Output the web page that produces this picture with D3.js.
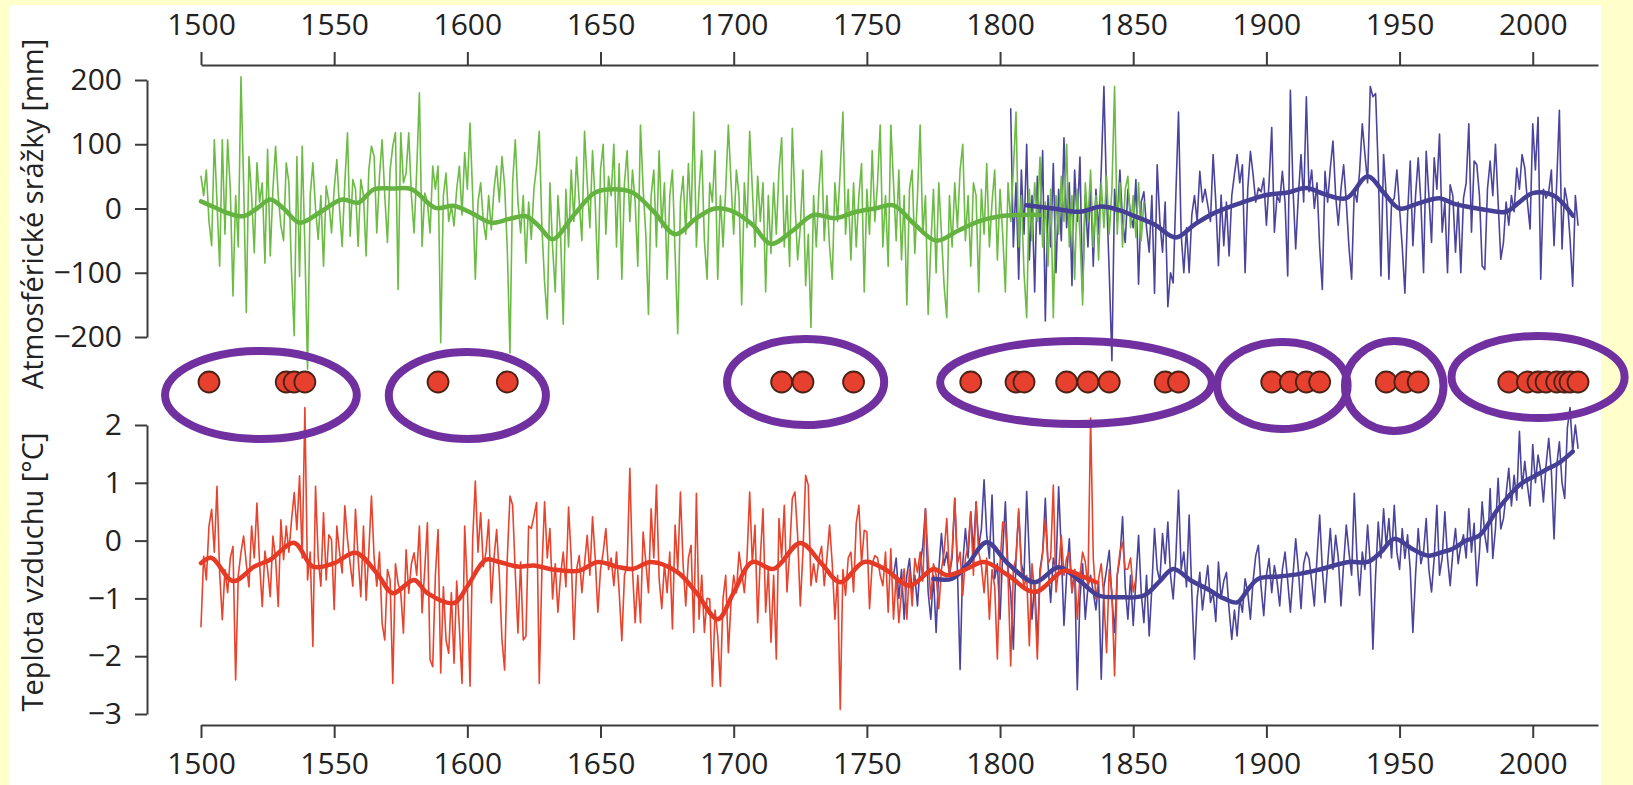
<!DOCTYPE html>
<html>
<head>
<meta charset="utf-8">
<script src="https://cdn.jsdelivr.net/npm/d3@7"></script>
<style>
  html, body { margin: 0; padding: 0; background: #FFFFCC; }
  svg { display: block; }
</style>
</head>
<body>
<svg id="chart" width="1633" height="785"></svg>
<script>
// ---- data ----
const yearTicks = [1500, 1550, 1600, 1650, 1700, 1750, 1800, 1850, 1900, 1950, 2000];
const precipTicks = [-200, -100, 0, 100, 200];
const tempTicks = [-3, -2, -1, 0, 1, 2];

// annual precipitation anomaly [mm], reconstruction (green) from 1500
const greenStart = 1500;
const greenPrecip = [
  50,20,60,-20,-58,107,10,-90,107,-40,
  107,30,-136,20,-60,205,40,-162,81,20,
  -69,71,10,40,-85,92,-74,30,97,20,
  -27,-50,71,40,-100,-198,81,-106,97,-60,
  -250,20,71,0,-48,20,-90,35,10,-38,
  30,76,0,-59,40,118,-43,45,30,-59,
  45,20,-74,60,97,81,-38,50,107,20,
  -53,60,97,118,-126,118,40,55,118,20,
  -38,60,180,-59,24,10,-38,66,30,66,
  -209,20,55,-20,4,-27,30,66,-10,87,
  30,133,20,-110,10,40,-20,-48,20,-33,
  30,66,10,81,35,-64,-225,40,107,10,
  -38,20,-85,10,-48,30,66,120,-30,-115,
  -172,40,-60,-130,20,-40,-180,30,-60,60,
  -20,80,10,-50,120,40,-30,90,10,-110,
  60,100,-40,50,20,100,-60,70,-110,40,
  90,-20,60,10,-90,130,30,-40,-165,20,
  60,-60,90,-30,40,-110,20,60,-70,-195,
  10,50,-40,70,-20,150,-60,30,90,-50,
  -110,40,10,90,-110,20,-60,30,130,40,
  -40,60,20,-150,40,-30,120,30,-60,50,
  -20,40,-130,20,-70,40,-40,60,110,-60,
  20,-90,125,10,-80,-30,60,-120,-40,-185,
  20,-60,30,90,-50,20,-60,-110,40,-20,
  60,150,-40,30,-80,40,-60,20,70,-130,
  30,-40,90,-20,40,130,-60,20,-90,130,
  40,-50,60,-80,20,-150,30,60,-70,20,
  130,-40,20,-165,-60,30,-100,40,-40,-120,
  -170,20,-60,40,-30,60,100,-50,20,-90,
  40,20,-130,30,-40,70,-60,10,60,-80,
  30,-40,-130,40,-20,60,150,-60,20,-100,
  -170,30,-50,40,-20,80,-60,10,-90,30,
  -170,20,-40,50,-20,100,-60,20,-110,30,
  -40,-150,40,-20,60,-60,20,-80,40,-30,
  50,-40,30,190,-40,40,-60,30,50,-30,
  20,-45,40,-50,10
];

// annual precipitation anomaly [mm], measurements (blue) from 1804
const bluePrecipStart = 1804;
const bluePrecip = [
  155,-60,40,-110,60,-40,
  100,-80,20,-130,50,-40,90,-175,20,-60,
  70,-100,30,-50,110,-30,40,-120,60,-20,
  80,-130,20,-60,40,-90,30,-40,60,190,
  20,-100,-237,30,-20,60,-20,-53,30,-10,
  -30,45,-118,10,26,-30,-68,20,-132,68,
  -20,-68,10,-153,-100,-116,20,150,-40,-100,
  -30,-100,-10,20,-20,58,10,30,5,-20,
  84,10,-89,21,-58,10,-74,20,53,84,
  40,68,-100,30,89,53,10,32,26,47,
  -26,40,126,-37,20,10,58,10,-105,184,
  30,-63,20,84,10,174,26,60,0,40,
  -60,-126,58,10,63,105,20,-26,30,68,
  10,-60,-110,30,10,58,132,84,40,190,
  174,179,60,-105,84,20,-110,10,16,60,
  0,-60,-132,-10,74,-58,20,79,10,-100,
  89,20,-53,79,30,116,-37,10,-100,37,
  20,-68,10,-100,16,40,132,-37,74,68,
  20,-89,-95,30,74,20,100,10,-79,-53,
  10,-26,20,-5,63,30,84,63,10,-32,
  132,60,142,-110,30,16,26,60,-58,40,
  153,-63,32,10,-47,-121,20,-26
];

// annual temperature anomaly [°C], reconstruction (red) from 1500
const redStart = 1500;
const redTemp = [
  -1.49,-0.27,-0.68,0.25,0.54,-0.2,0.94,-0.56,-1.37,-0.5,
  -0.9,-0.3,-0.1,-2.41,-0.6,-0.21,0.08,-0.4,-0.8,0.25,
  -0.3,0.65,-0.4,-1.14,-0.18,-0.5,-0.97,0.08,-0.3,-1.14,
  0.36,-0.33,0.25,-0.2,0.36,0.83,0.19,1.12,-0.3,2.3,
  -0.68,-0.2,-1.83,0.94,-0.3,-0.79,0.48,-0.68,0.1,0.02,
  -1.19,0.25,-0.2,-0.56,0.6,0.02,-0.4,-0.79,0.54,-0.3,
  -0.97,0.25,-1.03,-0.2,0.77,-0.3,-0.79,-0.2,-1.43,-1.72,
  -0.5,-0.68,-2.47,-0.4,-0.74,-0.9,-1.6,-0.16,-0.91,-0.4,
  -0.21,-0.6,0.25,-1.25,-0.5,0.31,-2.06,-2.18,-0.6,0.19,
  -2.29,-0.8,-1.72,-1.95,-0.9,-2.12,-0.7,-1.49,-2.47,0.25,
  -0.8,-2.52,0.02,1.03,-0.2,0.48,-0.45,-0.2,0.36,-1.08,
  -0.3,0.19,-0.6,-1.72,-2.24,-0.3,0.77,0.61,-0.56,-1.6,
  -0.37,-1.72,-1.65,0.25,0.21,0.42,0.66,-2.47,-0.5,0.67,
  -0.3,0.21,-1.01,-0.4,-1.24,-0.6,-0.2,-0.8,0.58,-0.3,
  -1.71,-0.5,-0.26,-0.9,-0.4,0.09,-0.6,0.41,-0.3,-1.24,
  -0.5,-0.2,0.21,-0.5,-0.3,-0.78,-0.2,-0.89,-1.73,-0.6,
  -0.43,1.25,-0.5,-1.42,-0.6,-1.42,0.15,-0.37,-0.9,0.55,
  -0.3,0.96,-0.66,-1.18,-0.4,-0.9,-0.2,-1.53,0.27,-0.5,
  0.84,-0.4,-1.13,-0.3,-0.08,-1.59,0.82,-1.36,-0.6,-1.59,
  -1.0,-1.01,-2.52,-1.2,-1.65,-2.52,-1.0,-0.6,-1.94,-1.07,
  -0.6,-0.9,-0.2,-0.55,-0.9,-0.3,0.84,-0.4,0.27,-1.42,
  -0.3,0.55,-1.24,-0.5,-1.76,-0.6,-2.05,0.38,-0.3,0.61,
  -0.89,-0.2,0.73,0.84,0.09,-1.13,-0.2,1.13,0.96,-0.78,
  -0.4,-0.72,-0.31,-0.1,-0.78,-0.3,0.27,-0.4,-1.36,-0.6,
  -2.92,-0.5,-0.95,-0.3,-0.2,-0.89,0.3,0.61,-0.4,0.18,
  0.15,-1.18,-0.4,-0.26,-0.3,-0.6,-0.78,-0.2,-1.24,-0.14,
  -1.36,-0.6,-1.42,-0.89,-0.49,-1.36,-0.5,-1.13,-0.31,-0.55,
  -0.2,-0.7,0.55,-0.3,-1.01,-0.4,-0.6,-1.18,-0.5,-0.2,
  0.38,-0.6,-0.2,0.73,-0.4,-0.2,-0.95,-0.3,-0.1,0.5,
  -0.6,0.67,-0.2,-0.43,-0.9,-0.3,-1.36,-0.5,-0.8,-2.05,
  -0.4,0.32,0.27,-0.6,-2.17,-0.5,-0.3,0.55,-0.5,-0.8,
  -0.6,-1.82,-0.4,-0.9,-2.05,-0.6,-0.2,0.38,-0.4,-0.3,
  0.96,-0.89,-0.5,0.09,-0.6,-0.3,-0.2,-0.9,-0.5,-1.36,
  -0.6,-0.2,-0.37,-0.8,2.12,-0.3,-1.01,-0.66,-0.4,-1.0,
  -1.94,-0.5,-0.9,-2.34,-0.6,-0.2,-0.03,-0.5,-0.49,-0.3,
  -0.89,-0.66
];

// annual temperature anomaly [°C], measurements (blue) from 1760
const blueTempStart = 1760;
const blueTemp = [
  -0.6,-0.3,-1.0,-0.5,-1.36,-0.6,-0.31,-0.9,-0.6,-1.13,
  -0.4,-0.1,0.55,-0.89,-1.36,-0.6,-1.59,-0.5,0.12,-0.43,
  -0.2,-0.6,-0.3,0.73,-0.5,-2.23,-0.4,0.21,-0.3,0.5,
  -0.2,0.67,-0.1,0.2,1.05,0.1,-0.31,0.79,-0.66,-0.4,
  -1.36,-0.2,0.67,-0.5,-0.9,-1.88,-0.3,0.5,-0.4,-0.6,
  0.85,-0.3,-1.36,-0.7,-1.82,-0.5,-0.2,0.73,-0.4,-1.07,
  -0.3,-0.5,0.93,-0.2,-1.47,-0.6,0.03,-0.9,-0.5,-2.58,
  -1.0,-0.4,-1.36,-0.8,-0.6,-0.89,-1.2,-0.7,-2.4,-0.8,
  -0.5,-0.17,-1.0,-1.59,-0.6,-0.3,0.41,-0.8,-1.36,-0.6,
  -1.47,-0.7,0.09,-0.9,-1.42,-0.6,-1.65,-0.8,0.21,-0.5,
  -0.7,0.12,-0.4,0.32,-0.6,-1.01,-0.3,0.87,-0.5,-0.2,
  -0.8,0.44,-0.9,-2.05,-1.0,-0.55,-1.2,-0.8,-0.43,-1.07,
  -0.9,-1.4,-0.37,-1.0,-0.7,-0.55,-1.2,-1.71,-1.2,-1.65,
  -1.0,-1.24,-0.66,-0.9,-1.36,-0.7,-0.26,-0.08,-0.8,-1.3,
  -0.6,-0.31,-0.9,-0.43,-0.7,-1.13,-0.5,-0.2,-0.7,-1.24,
  -0.6,0.03,-0.5,-1.18,-0.4,-0.2,-0.31,-0.7,-1.13,-0.3,
  0.44,-0.5,-1.07,-0.4,0.21,-0.5,0.09,-0.3,-1.13,-0.4,
  0.27,-0.2,-0.6,0.82,-0.3,-0.95,-0.2,-0.5,0.27,-0.4,
  -1.88,-0.6,0.32,-0.3,0.55,-0.1,0.38,-0.3,0.61,-0.2,
  -0.5,0.21,-0.31,0.1,-0.5,-1.59,-0.6,0.21,-0.4,-0.2,
  0.38,-0.5,-0.89,-0.3,0.61,-0.6,-0.3,0.5,-0.3,-0.78,
  -0.2,0.21,-0.4,-0.08,0.1,-0.3,0.55,-0.2,0.3,-0.78,
  -0.2,0.67,0.1,-0.2,0.9,-0.31,0.2,1.08,0.2,0.38,
  0.8,1.25,0.6,1.13,0.7,1.89,0.9,1.37,0.96,0.6,
  1.66,1.0,1.48,1.2,0.67,1.3,1.77,1.2,0.03,1.3,
  1.71,1.0,0.73,1.95,2.3,1.54,2.0,1.6
];

// smoothed curves [year, value]
const greenSmooth = [
  [1500,11],[1505,2],[1510,-7],[1516,-12],[1521,0],[1526,14],[1531,0],[1537,-22],
  [1545,-5],[1553,14],[1559,9],[1565,30],[1572,31],[1579,30],[1588,1],[1595,4],
  [1602,-8],[1609,-22],[1616,-16],[1622,-12],[1627,-28],[1632,-48],[1640,-10],
  [1648,25],[1655,30],[1662,25],[1670,-5],[1678,-40],[1686,-15],[1693,0],[1700,-5],
  [1707,-25],[1714,-55],[1722,-35],[1730,-10],[1738,-15],[1746,-5],[1753,0],
  [1760,5],[1768,-25],[1776,-50],[1784,-35],[1792,-20],[1800,-12],[1808,-10],[1815,-10]
];
const bluePrecipSmooth = [
  [1810,5],[1820,0],[1830,-5],[1838,3],[1845,-3],[1850,-11],[1858,-25],[1866,-45],
  [1873,-25],[1880,-8],[1890,8],[1900,21],[1908,25],[1915,32],[1922,22],[1930,16],
  [1938,50],[1944,25],[1950,0],[1957,8],[1965,16],[1970,8],[1975,3],[1982,-2],
  [1990,-5],[1995,10],[2000,24],[2008,20],[2015,-11]
];
const redSmooth = [
  [1500,-0.39],[1504,-0.3],[1512,-0.7],[1520,-0.45],[1526,-0.33],[1535,-0.04],
  [1542,-0.45],[1550,-0.39],[1558,-0.21],[1566,-0.56],[1572,-0.91],[1580,-0.68],
  [1585,-0.91],[1595,-1.08],[1600,-0.79],[1607,-0.33],[1612,-0.37],[1619,-0.45],
  [1625,-0.43],[1632,-0.5],[1642,-0.52],[1649,-0.37],[1656,-0.45],[1662,-0.49],
  [1669,-0.37],[1679,-0.55],[1686,-0.9],[1694,-1.36],[1700,-0.9],[1707,-0.37],
  [1715,-0.49],[1725,-0.04],[1733,-0.4],[1740,-0.72],[1749,-0.37],[1757,-0.5],
  [1766,-0.78],[1775,-0.49],[1780,-0.6],[1787,-0.5],[1794,-0.37],[1803,-0.6],
  [1813,-0.89],[1824,-0.52],[1830,-0.6],[1836,-0.72]
];
const blueTempSmooth = [
  [1775,-0.66],[1782,-0.66],[1788,-0.4],[1795,-0.03],[1803,-0.4],[1813,-0.72],
  [1822,-0.46],[1830,-0.7],[1837,-0.95],[1845,-0.98],[1854,-0.95],[1860,-0.7],
  [1865,-0.49],[1872,-0.7],[1878,-0.84],[1884,-1.0],[1889,-1.07],[1893,-0.85],
  [1897,-0.66],[1905,-0.62],[1912,-0.58],[1920,-0.5],[1931,-0.37],[1938,-0.37],
  [1943,-0.2],[1948,0.03],[1955,-0.15],[1961,-0.26],[1966,-0.2],[1970,-0.14],
  [1975,0.0],[1980,0.09],[1987,0.55],[1995,0.96],[2000,1.1],[2006,1.25],
  [2010,1.35],[2015,1.54]
];

// marked years (red dots) and the groups circled around them
const dotYears = [
  1503, 1532, 1535, 1539, 1589, 1615, 1718, 1726, 1745,
  1789, 1806, 1809, 1825, 1833, 1841, 1862, 1867,
  1902, 1909, 1915, 1920, 1945, 1952, 1957,
  1991, 1998, 2002, 2005, 2009, 2012, 2014, 2017
];
const groupSpans = [
  [1485, 1560], [1569, 1631], [1696, 1758], [1776, 1881],
  [1880, 1932], [1928, 1968], [1968, 2036]
];

// ---- layout ----
const font = '"Open Sans", "DejaVu Sans", sans-serif';
const axisColor = '#3c3c3c';
const green = '#6cbb45', blue = '#4b449c', red = '#e8432d';
const dotRow = 382;
const groupRows = [[347, 443], [348, 443], [335, 429], [337, 428], [338, 433], [337, 435], [332, 422]];

const svg = d3.select('#chart');
svg.append('rect').attr('x', 10).attr('y', 5).attr('width', 1591).attr('height', 780).attr('fill', '#ffffff');

const x = d3.scaleLinear().domain([1500, 2024.5]).range([201, 1598]);
const yP = d3.scaleLinear().domain([-200, 200]).range([337, 80]);
const yT = d3.scaleLinear().domain([-3, 2]).range([714, 425]);

function styleAxis(g) {
  g.attr('font-family', font).attr('font-size', 30);
  g.selectAll('path, line').attr('stroke', axisColor).attr('stroke-width', 2);
  g.selectAll('text').attr('fill', '#222');
}

svg.append('g')
  .attr('transform', 'translate(0,65)')
  .call(d3.axisTop(x).tickValues(yearTicks).tickFormat(d3.format('d'))
    .tickSize(13).tickSizeOuter(0).tickPadding(17))
  .call(styleAxis);

svg.append('g')
  .attr('transform', 'translate(0,725)')
  .call(d3.axisBottom(x).tickValues(yearTicks).tickFormat(d3.format('d'))
    .tickSize(13).tickSizeOuter(0).tickPadding(15))
  .call(styleAxis);

svg.append('g')
  .attr('transform', 'translate(147,0)')
  .call(d3.axisLeft(yP).tickValues(precipTicks).tickFormat(d3.format('d'))
    .tickSize(12).tickSizeOuter(0).tickPadding(13))
  .call(styleAxis);

svg.append('g')
  .attr('transform', 'translate(147,0)')
  .call(d3.axisLeft(yT).tickValues(tempTicks).tickFormat(d3.format('d'))
    .tickSize(12).tickSizeOuter(0).tickPadding(13))
  .call(styleAxis);

svg.append('text')
  .attr('transform', 'translate(31,214) rotate(-90)')
  .attr('text-anchor', 'middle').attr('dominant-baseline', 'central')
  .attr('font-family', font).attr('font-size', 29).attr('fill', '#222')
  .text('Atmosférické srážky [mm]');

svg.append('text')
  .attr('transform', 'translate(31,572) rotate(-90)')
  .attr('text-anchor', 'middle').attr('dominant-baseline', 'central')
  .attr('font-family', font).attr('font-size', 29).attr('fill', '#222')
  .text('Teplota vzduchu [°C]');

// ---- lines ----
const annual = (start, y) => d3.line().x((d, i) => x(start + i)).y(d => y(d));
const smooth = (y) => d3.line().x(d => x(d[0])).y(d => y(d[1])).curve(d3.curveCatmullRom.alpha(0.5));

function drawLine(data, gen, color, width) {
  svg.append('path').datum(data)
    .attr('d', gen)
    .attr('fill', 'none')
    .attr('stroke', color)
    .attr('stroke-width', width)
    .attr('stroke-linejoin', 'round')
    .attr('stroke-linecap', 'round');
}

drawLine(bluePrecip, annual(bluePrecipStart, yP), blue, 1.6);
drawLine(greenPrecip, annual(greenStart, yP), green, 1.6);
drawLine(greenSmooth, smooth(yP), '#64b240', 4.5);
drawLine(bluePrecipSmooth, smooth(yP), '#463f96', 4.5);

drawLine(blueTemp, annual(blueTempStart, yT), blue, 1.6);
drawLine(redTemp, annual(redStart, yT), red, 1.6);
drawLine(blueTempSmooth, smooth(yT), '#463f96', 4.5);
drawLine(redSmooth, smooth(yT), '#e43a26', 4.5);

// ---- marked years ----
svg.append('g').selectAll('circle')
  .data(dotYears)
  .join('circle')
  .attr('cx', d => x(d))
  .attr('cy', dotRow)
  .attr('r', 10.5)
  .attr('fill', '#e8402e')
  .attr('stroke', '#4a2216')
  .attr('stroke-width', 1.8);

svg.append('g').selectAll('ellipse')
  .data(groupSpans)
  .join('ellipse')
  .attr('cx', d => (x(d[0]) + x(d[1])) / 2)
  .attr('cy', (d, i) => (groupRows[i][0] + groupRows[i][1]) / 2)
  .attr('rx', d => (x(d[1]) - x(d[0])) / 2 - 4)
  .attr('ry', (d, i) => (groupRows[i][1] - groupRows[i][0]) / 2 - 4)
  .attr('fill', 'none')
  .attr('stroke', '#7030a0')
  .attr('stroke-width', 8);
</script>
</body>
</html>
